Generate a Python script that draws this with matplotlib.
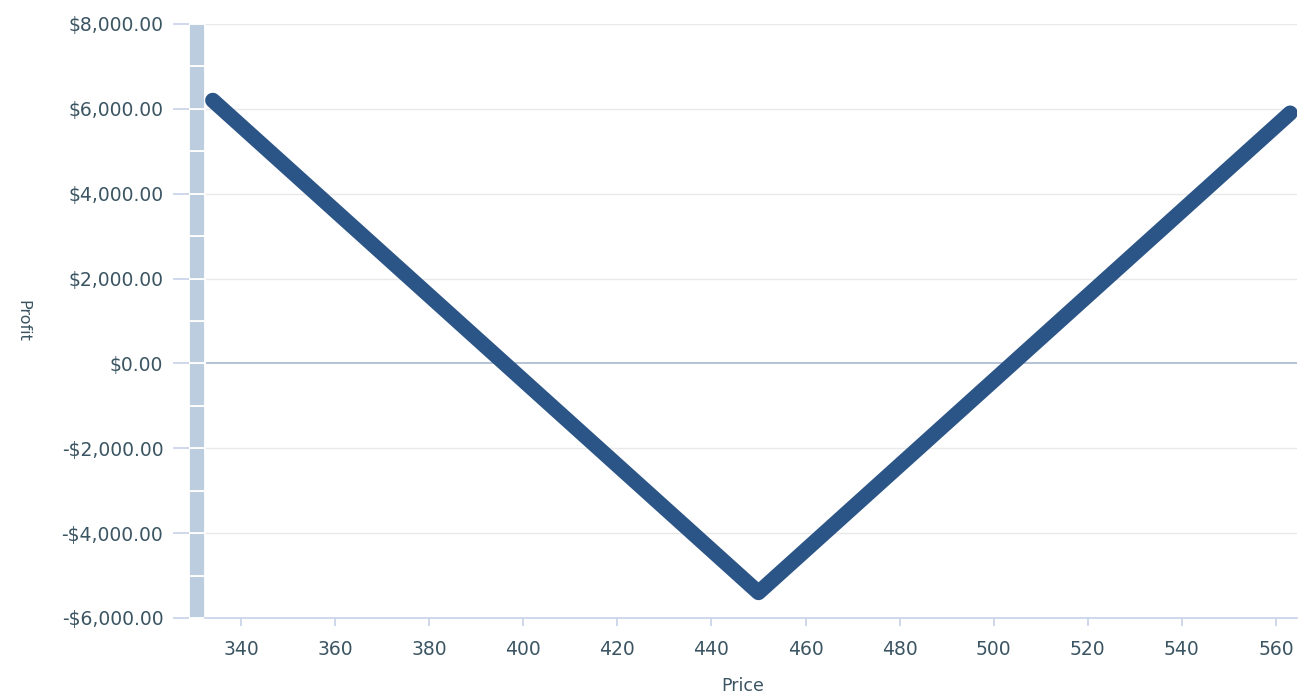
import matplotlib
matplotlib.use("Agg")
import matplotlib.pyplot as plt
from matplotlib.ticker import FuncFormatter

# Data
price = [334, 450, 563]
profit = [6200, -5400, 5900]
x_ticks = [340, 360, 380, 400, 420, 440, 460, 480, 500, 520, 540, 560]
y_ticks = [-6000, -4000, -2000, 0, 2000, 4000, 6000, 8000]
band_levels = list(range(-6000, 8000, 1000))

W, H = 1301, 698
fig = plt.figure(figsize=(W / 100, H / 100), dpi=100)
ax = fig.add_axes([189 / W, 1 - 618 / H, (1297 - 189) / W, (618 - 24) / H])

text_color = "#3b5563"
axis_color = "#ccd6eb"

ax.set_xlim(328.95, 564.46)
ax.set_ylim(-6000, 8000)

# grid
for yv in y_ticks:
    if yv == 0:
        ax.axhline(yv, color="#b4c3d6", lw=1.4, zorder=1)
    elif yv != -6000:
        ax.axhline(yv, color="#e9e9e9", lw=1.0, zorder=1)

# left band (segmented)
band_x0, band_x1 = 328.95, 332.35
ax.bar([(band_x0 + band_x1) / 2] * len(band_levels), [1000] * len(band_levels),
       bottom=band_levels, width=band_x1 - band_x0, color="#bccddf",
       edgecolor="white", linewidth=1.3, zorder=2)

# profit line
ax.plot(price, profit, color="#2c5587", lw=11, solid_capstyle="round",
        solid_joinstyle="round", zorder=3)

ax.set_xticks(x_ticks)
ax.set_yticks(y_ticks)
ax.yaxis.set_major_formatter(FuncFormatter(
    lambda v, p: ("-" if v < 0 else "") + "${:,.2f}".format(abs(v))))

for s in ["top", "right", "left"]:
    ax.spines[s].set_visible(False)
ax.spines["bottom"].set_color(axis_color)
ax.spines["bottom"].set_linewidth(1.3)
ax.spines["bottom"].set_bounds(band_x1, 564.46)

ax.tick_params(axis="x", colors=axis_color, length=6, width=1.3, pad=10,
               labelcolor=text_color, labelsize=13.5)
ax.tick_params(axis="y", colors=axis_color, length=11.5, width=1.3, pad=7,
               labelcolor=text_color, labelsize=13.5)

ax.set_xlabel("Price", color=text_color, fontsize=12.5)
ax.xaxis.set_label_coords(0.5, -(686 - 618) / (618 - 24))
ax.xaxis.label.set_verticalalignment("center")
ax.set_ylabel("Profit", color=text_color, fontsize=11.5, rotation=270)
ax.yaxis.set_label_coords(-(189 - 15) / (1297 - 189), 0.5)
ax.yaxis.label.set_horizontalalignment("center")

fig.savefig("out.png", dpi=100, facecolor="white")
